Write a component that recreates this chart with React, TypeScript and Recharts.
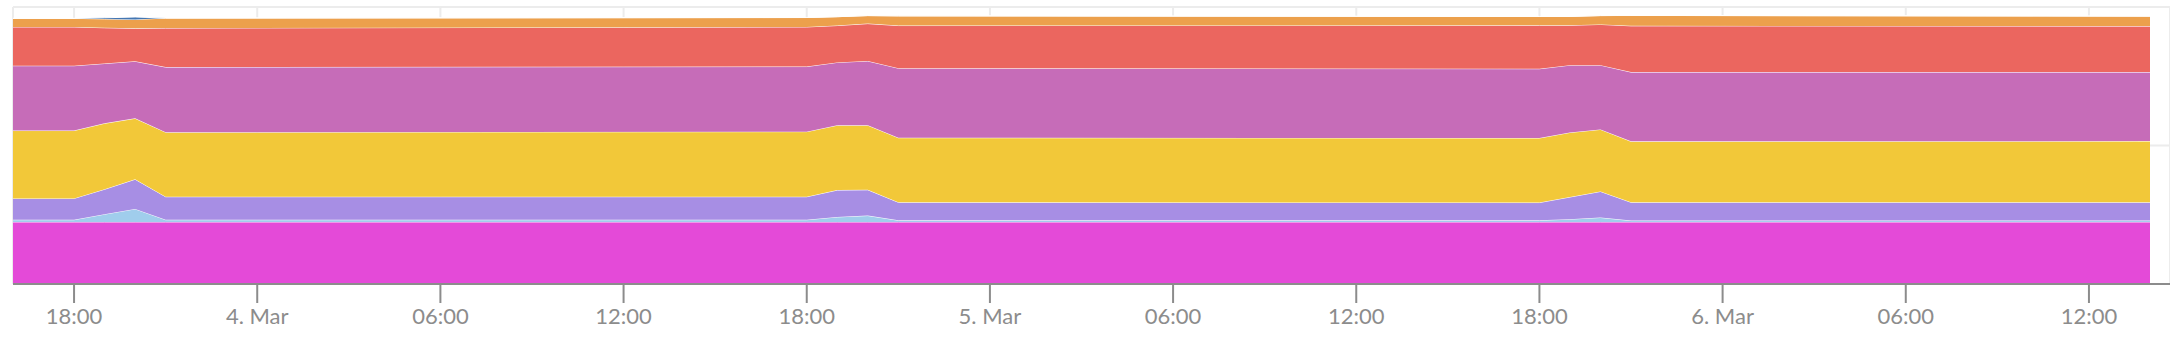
import React from 'react';
import { AreaChart, Area, XAxis, YAxis, CartesianGrid } from 'recharts';

// hours counted from 3 Mar 00:00; only the points where the stack bends
const hours = [16, 18, 19, 20, 21, 42, 43, 44, 45, 66, 67, 68, 69, 86];

// stacked from the bottom up
const magenta = [22.4, 22.4, 22.4, 22.4, 22.4, 22.4, 22.4, 22.4, 22.4, 22.4, 22.4, 22.4, 22.4, 22.4];
const sky = [0.8, 0.8, 2.8, 4.7, 0.8, 0.8, 1.8, 2.3, 0.6, 0.6, 1.0, 1.6, 0.5, 0.5];
const violet = [7.7, 7.7, 9.0, 10.7, 8.3, 8.3, 9.7, 9.3, 6.5, 6.4, 8.0, 9.4, 6.6, 6.6];
const amber = [24.5, 24.5, 23.8, 22.0, 23.3, 23.5, 23.4, 23.3, 23.3, 23.3, 23.3, 22.4, 22.0, 22.1];
const orchid = [23.4, 23.4, 21.6, 20.6, 23.5, 23.5, 22.7, 23.2, 25.1, 25.0, 24.3, 23.2, 25.0, 24.9];
const coral = [14.0, 14.0, 12.9, 11.9, 14.1, 14.3, 13.3, 13.5, 15.4, 15.7, 14.4, 14.7, 16.7, 16.6];
const orange = [3.1, 3.1, 3.2, 3.2, 3.6, 3.4, 3.2, 2.9, 3.5, 3.2, 3.2, 3.2, 3.75, 3.6];
const navy = [0, 0, 0.4, 0.9, 0, 0, 0, 0, 0, 0, 0, 0, 0, 0];

const tickHours = [18, 24, 30, 36, 42, 48, 54, 60, 66, 72, 78, 84];
const tickLabels = ['18:00', '4. Mar', '06:00', '12:00', '18:00', '5. Mar', '06:00', '12:00', '18:00', '6. Mar', '06:00', '12:00'];

const data = hours.map((h, i) => ({
  h,
  magenta: magenta[i],
  sky: sky[i],
  violet: violet[i],
  amber: amber[i],
  orchid: orchid[i],
  coral: coral[i],
  orange: orange[i],
  navy: navy[i],
}));

const series = [
  { key: 'magenta', color: '#e343d6' },
  { key: 'sky', color: '#9ccbeb' },
  { key: 'violet', color: '#a389e3' },
  { key: 'amber', color: '#f1c631' },
  { key: 'orchid', color: '#c466b5' },
  { key: 'coral', color: '#ea6058' },
  { key: 'orange', color: '#eb9c45' },
  { key: 'navy', color: '#3b70b0' },
];

const axisGrey = '#8c8c8c';

export default function App() {
  return (
    <div style={{ position: 'absolute', left: 0, top: 0, width: 2170, height: 346 }}>
      <AreaChart width={2170} height={346} data={data} margin={{ top: 7, right: 0, bottom: 0, left: 13 }}>
        <CartesianGrid stroke="#ececec" strokeWidth={2} />
        <XAxis
          dataKey="h"
          type="number"
          domain={[16, 86]}
          padding={{ left: 0, right: 20 }}
          ticks={tickHours}
          interval={0}
          tickFormatter={(v: number) => tickLabels[tickHours.indexOf(v)] ?? ''}
          height={62}
          tickSize={19}
          tickMargin={5}
          axisLine={{ stroke: axisGrey, strokeWidth: 2 }}
          tickLine={{ stroke: axisGrey, strokeWidth: 2 }}
          tick={{ fill: axisGrey, fontSize: 22, fontFamily: 'Lato, sans-serif' }}
        />
        <YAxis hide type="number" domain={[0, 100]} ticks={[0, 50, 100]} />
        {series.map((s) => (
          <Area
            key={s.key}
            type="linear"
            dataKey={s.key}
            stackId="1"
            fill={s.color}
            fillOpacity={0.96}
            stroke="#ffffff"
            strokeWidth={1}
            isAnimationActive={false}
          />
        ))}
      </AreaChart>
    </div>
  );
}
